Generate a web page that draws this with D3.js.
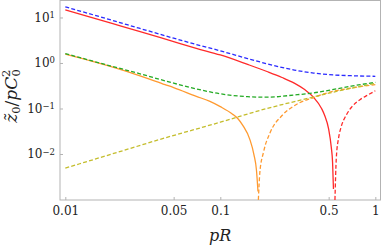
<!DOCTYPE html>
<html>
<head>
<meta charset="utf-8">
<script src="https://d3js.org/d3.v7.min.js"></script>
<style>
  body { margin: 0; background: #fff; }
</style>
</head>
<body>
<svg width="382" height="249"></svg>
<script>
// tick values
var xTicks = [0.01, 0.05, 0.1, 0.5, 1];
var xTickLabels = ["0.01", "0.05", "0.1", "0.5", "1"];
var yTicks = [0.01, 0.1, 1, 10];
var yTickExp = ["\u22122", "\u22121", "0", "1"];

// blue dashed
var pBlue = [0.01, 0.02, 0.03, 0.05, 0.07, 0.1, 0.15, 0.2, 0.3, 0.4, 0.5, 0.7, 1.0];
var vBlue = [17.1, 8.7, 5.8, 3.5, 2.55, 1.85, 1.25, 0.96, 0.7, 0.6, 0.555, 0.525, 0.51];

// red solid, then red dashed past the zero
var pRed = [0.01, 0.02, 0.03, 0.05, 0.07, 0.1, 0.15, 0.2, 0.25, 0.3, 0.35, 0.4, 0.45, 0.47, 0.5, 0.52, 0.53, 0.537];
var vRed = [14.7, 7.4, 4.95, 2.95, 2.1, 1.5, 0.93, 0.65, 0.48, 0.36, 0.26, 0.175, 0.1, 0.072, 0.035, 0.014, 0.0065, 0.0017];
var pRedDash = [0.549, 0.56, 0.58, 0.6, 0.65, 0.7, 0.8, 0.9, 1.0];
var vRedDash = [0.00098, 0.008, 0.023, 0.038, 0.072, 0.105, 0.158, 0.2, 0.245];

// green dashed
var pGreen = [0.01, 0.02, 0.03, 0.05, 0.07, 0.1, 0.15, 0.2, 0.3, 0.4, 0.5, 0.7, 1.0];
var vGreen = [1.61, 0.845, 0.585, 0.36, 0.27, 0.21, 0.182, 0.177, 0.198, 0.22, 0.25, 0.31, 0.375];

// orange solid, then orange dashed past the zero
var pOrange = [0.01, 0.02, 0.03, 0.044, 0.05, 0.07, 0.085, 0.1, 0.12, 0.13, 0.14, 0.155, 0.165, 0.171, 0.175];
var vOrange = [1.57, 0.82, 0.53, 0.335, 0.288, 0.185, 0.145, 0.11, 0.075, 0.0595, 0.042, 0.021, 0.0095, 0.0045, 0.0015];
var pOrangeDash = [0.176, 0.18, 0.19, 0.21, 0.25, 0.3, 0.4, 0.5, 0.7, 1.0];
var vOrangeDash = [0.00098, 0.004, 0.011, 0.03, 0.07, 0.115, 0.174, 0.225, 0.282, 0.335];

// olive dashed
var pOlive = [0.01, 0.02, 0.041, 0.1, 0.2, 0.38, 0.6, 1.0];
var vOlive = [0.0049, 0.01, 0.021, 0.05, 0.1, 0.172, 0.25, 0.355];

var svg = d3.select("svg"),
    plotLeft = 60, plotRight = 380.5, plotTop = 0.5, plotBottom = 200;

var x = d3.scaleLog().domain([0.009243, 1.08]).range([plotLeft, plotRight]);
var y = d3.scaleLog().domain([0.000975, 23.6]).range([plotBottom, plotTop]);

svg.append("defs").append("clipPath").attr("id", "clip")
  .append("rect").attr("x", plotLeft).attr("y", plotTop)
  .attr("width", plotRight - plotLeft).attr("height", plotBottom - plotTop);

var frameColor = "#b3b3b3";
var serif = "DejaVu Serif";

// x axis
var xAxis = svg.append("g").attr("transform", "translate(0," + plotBottom + ")")
  .call(d3.axisBottom(x).tickValues(xTicks)
    .tickFormat(function(d, i) { return xTickLabels[i]; })
    .tickSize(-3).tickPadding(6));
xAxis.attr("font-family", serif);
xAxis.select(".domain").remove();
xAxis.selectAll(".tick line").attr("stroke", frameColor);
xAxis.selectAll(".tick text").attr("font-size", 12).attr("fill", "#222");

// y axis
var yAxis = svg.append("g").attr("transform", "translate(" + plotLeft + ",0)")
  .call(d3.axisLeft(y).tickValues(yTicks).tickFormat(function() { return ""; })
    .tickSize(-3).tickPadding(5));
yAxis.attr("font-family", serif);
yAxis.select(".domain").remove();
yAxis.selectAll(".tick line").attr("stroke", frameColor);
yAxis.selectAll(".tick text").each(function(d, i) {
  var t = d3.select(this).attr("font-size", 12).attr("fill", "#222");
  t.append("tspan").text("10");
  t.append("tspan").attr("dy", "-0.45em").attr("font-size", 8.5).text(yTickExp[i]);
});

// frame
svg.append("rect")
  .attr("x", plotLeft).attr("y", plotTop)
  .attr("width", plotRight - plotLeft).attr("height", plotBottom - plotTop)
  .attr("fill", "none").attr("stroke", frameColor).attr("stroke-width", 1);

var line = d3.line()
  .x(function(d) { return x(d[0]); })
  .y(function(d) { return y(d[1]); })
  .curve(d3.curveMonotoneX);

function pairs(ps, vs) {
  return ps.map(function(p, i) { return [p, vs[i]]; });
}

var series = [
  {p: pRed, v: vRed, color: "#ff2a2a", dash: null},
  {p: pRedDash, v: vRedDash, color: "#ff2a2a", dash: "4,2.2"},
  {p: pOrange, v: vOrange, color: "#ff9a30", dash: null},
  {p: pOrangeDash, v: vOrangeDash, color: "#ff9a30", dash: "4,2.2"},
  {p: pBlue, v: vBlue, color: "#2a2aff", dash: "4,2.2"},
  {p: pOlive, v: vOlive, color: "#c4bd2c", dash: "4,2.2"},
  {p: pGreen, v: vGreen, color: "#24aa24", dash: "4,2.2"}
];

var plot = svg.append("g").attr("clip-path", "url(#clip)");
series.forEach(function(s) {
  plot.append("path")
    .datum(pairs(s.p, s.v))
    .attr("fill", "none")
    .attr("stroke", s.color)
    .attr("stroke-width", 1.3)
    .attr("stroke-dasharray", s.dash)
    .attr("d", line);
});

// axis labels
svg.append("text")
  .attr("x", (plotLeft + plotRight) / 2).attr("y", 241)
  .attr("text-anchor", "middle").attr("font-size", 16).attr("font-style", "italic")
  .attr("font-family", serif).attr("fill", "#222").text("pR");

var yl = svg.append("text")
  .attr("transform", "translate(17,96) rotate(-90)")
  .attr("text-anchor", "middle").attr("font-size", 17)
  .attr("font-family", serif).attr("fill", "#222");
yl.append("tspan").attr("font-style", "italic").text("z\u0303");
yl.append("tspan").attr("font-size", 11.5).attr("dy", 3).text("0");
yl.append("tspan").attr("dy", -3).text("/");
yl.append("tspan").attr("font-style", "italic").text("pC");
yl.append("tspan").attr("font-size", 11.5).attr("dy", -7).text("2");
yl.append("tspan").attr("font-size", 11.5).attr("dx", -7).attr("dy", 10).text("0");
</script>
</body>
</html>
